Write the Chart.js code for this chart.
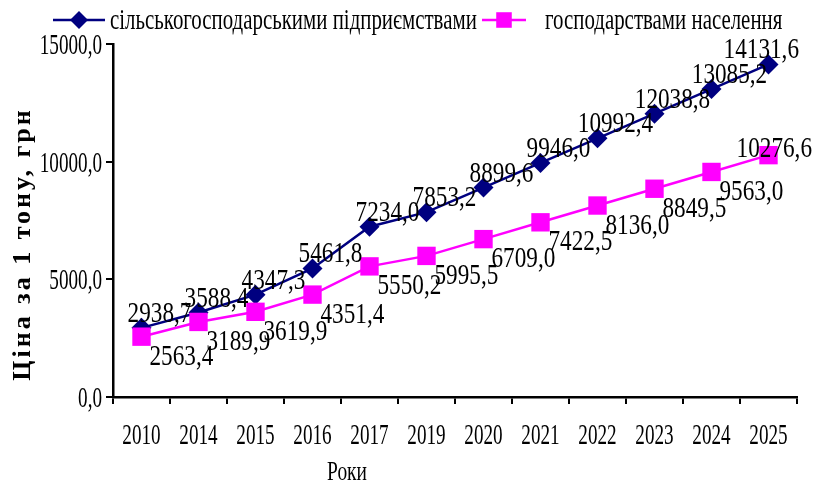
<!DOCTYPE html>
<html>
<head>
<meta charset="utf-8">
<script src="https://cdn.jsdelivr.net/npm/chart.js@4"></script>
<style>body{margin:0;background:#fff}</style>
</head>
<body>
<canvas id="grafik" width="814" height="485"></canvas>
<script>
const roky = ["2010", "2014", "2015", "2016", "2017", "2019", "2020", "2021", "2022", "2023", "2024", "2025"];
const pidpryiemstva = [2938.7, 3588.4, 4347.3, 5461.8, 7234.0, 7853.2, 8899.6, 9946.0, 10992.4, 12038.8, 13085.2, 14131.6];
const naselennia = [2563.4, 3189.9, 3619.9, 4351.4, 5550.2, 5995.5, 6709.0, 7422.5, 8136.0, 8849.5, 9563.0, 10276.6];
const nazvy = ["сільськогосподарськими підприємствами", "господарствами населення"];
const osY = "Ціна за 1 тону, грн";
const osX = "Роки";

const SERIF = '"Liberation Serif", "Times New Roman", serif';
const SYNII = "#000080";
const ROZH = "#FF00FF";

const koma = v => v.toFixed(1).replace(".", ",");

// вузький текст, як у вихідному рисунку
function tekst(ctx, s, x, y, o = {}) {
  const size = o.size || 29, sx = o.sx || 0.66, align = o.align || "left";
  ctx.save();
  ctx.font = (o.bold ? "bold " : "") + size + "px " + SERIF;
  ctx.fillStyle = "#000";
  ctx.textAlign = "left";
  ctx.textBaseline = "alphabetic";
  const w = ctx.measureText(s).width * sx;
  const x0 = align === "center" ? x - w / 2 : align === "right" ? x - w : x;
  ctx.translate(x0, y);
  ctx.scale(sx, 1);
  ctx.fillText(s, 0, 0);
  ctx.restore();
  return w;
}

function shyryna(ctx, s, size, sx) {
  ctx.save();
  ctx.font = size + "px " + SERIF;
  const w = ctx.measureText(s).width * sx;
  ctx.restore();
  return w;
}

const pidpysy = {
  id: "pidpysy",
  afterDraw(chart) {
    const ctx = chart.ctx;
    const sx = chart.scales.x, sy = chart.scales.y;
    const area = chart.chartArea;

    // підписи осей
    sx.ticks.forEach((t, i) => tekst(ctx, roky[i], sx.getPixelForValue(i), 444, { align: "center" }));
    sy.ticks.forEach(t => tekst(ctx, koma(t.value), 102, sy.getPixelForValue(t.value) + 10, { align: "right" }));

    // значення
    chart.getDatasetMeta(0).data.forEach((p, i) => {
      const s = koma(pidpryiemstva[i]);
      const w = shyryna(ctx, s, 29, 0.8);
      let cx = p.x + 18;
      if (cx + w / 2 > area.right + 2) cx = area.right + 2 - w / 2;
      tekst(ctx, s, cx, p.y - 6, { align: "center", sx: 0.8 });
    });
    chart.getDatasetMeta(1).data.forEach((p, i) => {
      const s = koma(naselennia[i]);
      const w = shyryna(ctx, s, 29, 0.8);
      if (p.x + 8 + w > 812) tekst(ctx, s, 812, p.y + 2, { align: "right", sx: 0.8 });
      else tekst(ctx, s, p.x + 8, p.y + 28, { sx: 0.8 });
    });

    // назви осей
    tekst(ctx, osX, 347, 480, { align: "center", size: 27, sx: 0.72 });
    ctx.save();
    ctx.translate(23, 244);
    ctx.rotate(-Math.PI / 2);
    ctx.font = "bold 26px " + SERIF;
    ctx.letterSpacing = "3px";
    ctx.fillStyle = "#000";
    ctx.textAlign = "center";
    ctx.textBaseline = "middle";
    ctx.fillText(osY, 0, 0);
    ctx.restore();

    // легенда
    const leg = [
      { x1: 53, x2: 105, tx: 110, kolir: SYNII, styl: "rectRot", r: 9 },
      { x1: 482, x2: 526, tx: 545, kolir: ROZH, styl: "rect", r: 11 }
    ];
    leg.forEach((l, i) => {
      ctx.save();
      ctx.strokeStyle = l.kolir;
      ctx.lineWidth = 2.5;
      ctx.beginPath();
      ctx.moveTo(l.x1, 20);
      ctx.lineTo(l.x2, 20);
      ctx.stroke();
      ctx.fillStyle = l.kolir;
      Chart.helpers.drawPoint(ctx, { pointStyle: l.styl, radius: l.r, rotation: 0, borderWidth: 0 }, (l.x1 + l.x2) / 2, 20);
      ctx.restore();
      tekst(ctx, nazvy[i], l.tx, 29, { size: 29, sx: 0.72 });
    });
  }
};

new Chart(document.getElementById("grafik"), {
  type: "line",
  data: {
    labels: roky,
    datasets: [
      {
        label: nazvy[0],
        data: pidpryiemstva,
        borderColor: SYNII,
        backgroundColor: SYNII,
        borderWidth: 2.5,
        pointStyle: "rectRot",
        pointRadius: 10,
        pointBorderWidth: 0,
        tension: 0,
        order: 1
      },
      {
        label: nazvy[1],
        data: naselennia,
        borderColor: ROZH,
        backgroundColor: ROZH,
        borderWidth: 2.5,
        pointStyle: "rect",
        pointRadius: 13,
        pointBorderWidth: 0,
        tension: 0,
        order: 0
      }
    ]
  },
  options: {
    responsive: false,
    animation: false,
    layout: { padding: { top: 44, right: 17, left: 0, bottom: 0 } },
    plugins: { legend: { display: false }, tooltip: { enabled: false } },
    scales: {
      x: {
        offset: true,
        grid: { offset: true, drawOnChartArea: false, color: "#000", lineWidth: 2, tickLength: 7 },
        border: { color: "#000", width: 2.5 },
        ticks: { display: false },
        afterFit: s => { s.height = 88; }
      },
      y: {
        min: 0,
        max: 15000,
        ticks: { display: false, stepSize: 5000 },
        grid: { drawOnChartArea: false, color: "#000", lineWidth: 2, tickLength: 7 },
        border: { color: "#000", width: 2.5 },
        afterFit: s => { s.width = 113; }
      }
    }
  },
  plugins: [pidpysy]
});
</script>
</body>
</html>
